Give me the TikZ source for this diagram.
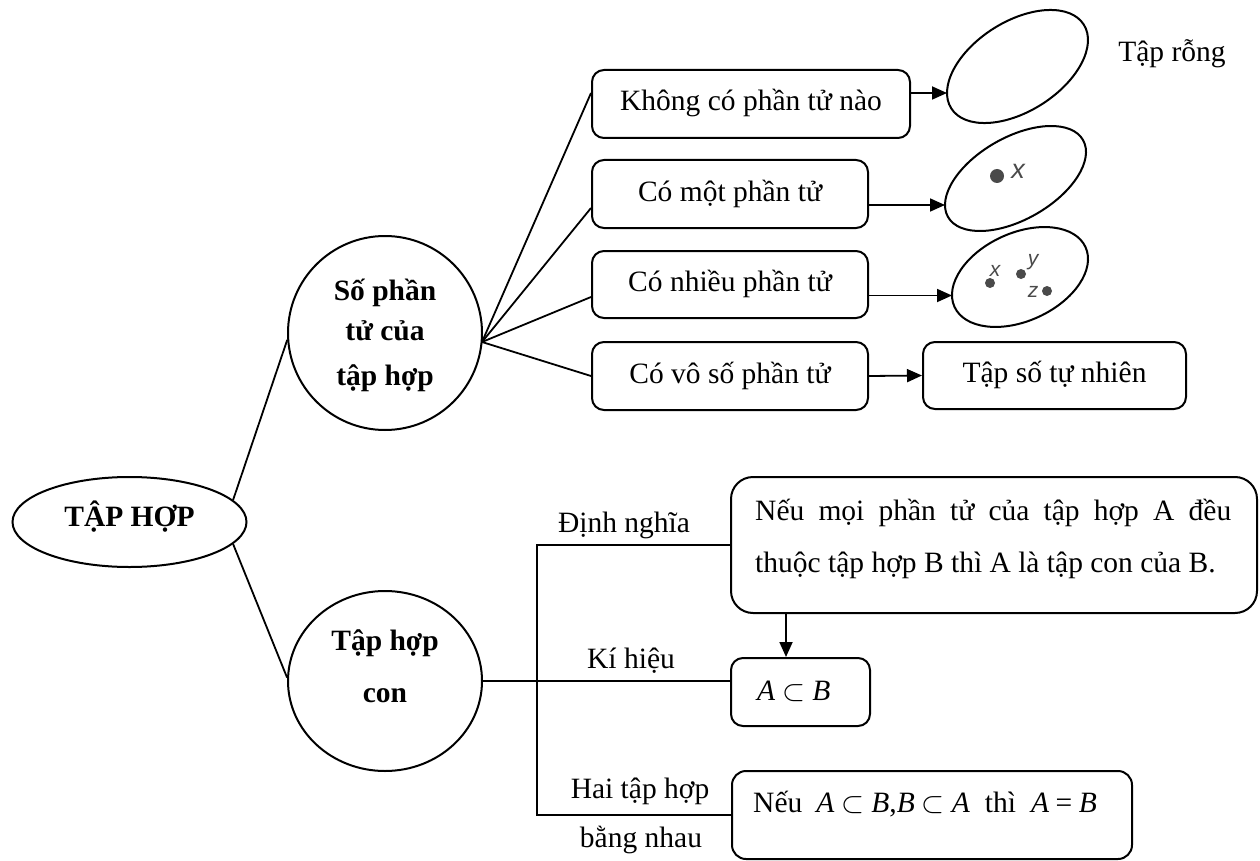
\documentclass[tikz,border=0pt]{standalone}
\usepackage{fix-cm}
\usepackage{fontspec}
\setmainfont{Liberation Serif}
\newfontfamily\lsans{Liberation Sans}
\usetikzlibrary{shapes.geometric,arrows.meta,calc}
\definecolor{dotgray}{HTML}{4A4A4A}
\hyphenpenalty=10000
\tolerance=9999
\newcommand{\subs}{\hspace{7pt}$\subset$\hspace{7pt}}
\begin{document}
\begin{tikzpicture}[x=1pt,y=-1pt,
  txt/.style={font=\fontsize{29.5}{35}\selectfont, inner sep=0pt},
  bld/.style={font=\fontsize{29.5}{35}\selectfont\bfseries, inner sep=0pt},
  rbox/.style={draw, line width=2pt, rounded corners=12pt, inner sep=0pt,
    text height=20pt, text depth=6pt, font=\fontsize{29.5}{35}\selectfont},
  oval/.style={draw, ellipse, line width=2pt, inner sep=0pt},
  conn/.style={line width=1.8pt},
  arr/.style={line width=1.8pt, -{Triangle[length=15pt,width=13pt]}},
  dotnode/.style={circle, fill=dotgray, inner sep=0pt},
  lab/.style={text=dotgray, inner sep=0pt}
]
\useasboundingbox (0,0) rectangle (1260,861);

% root
\node[oval, minimum width=234pt, minimum height=90pt] (tp) at (129.5,522) {};
\node[bld, anchor=base] (tpt) at (129.5,526) {TẬP HỢP};

% circles
\node[oval, minimum width=194pt, minimum height=194pt] (c1) at (385,333) {};
\node[bld, anchor=base] (c1a) at (385,300) {Số phần};
\node[bld, anchor=base] (c1b) at (385,340) {tử của};
\node[bld, anchor=base] (c1c) at (385,385) {tập hợp};

\node[oval, minimum width=194pt, minimum height=180pt] (c2) at (385,681) {};
\node[bld, anchor=base] (c2a) at (385,650) {Tập hợp};
\node[bld, anchor=base] (c2b) at (385,702) {con};

% boxes upper
\node[rbox, minimum width=318pt, minimum height=68pt] (b1) at (751,104) {Không có phần tử nào};
\node[rbox, minimum width=276pt, minimum height=68pt] (b2) at (730,194) {Có một phần tử};
\node[rbox, minimum width=276pt, minimum height=67pt] (b3) at (730,284.5) {Có nhiều phần tử};
\node[rbox, minimum width=276pt, minimum height=68pt] (b4) at (730,376) {Có vô số phần tử};
\node[rbox, minimum width=263pt, minimum height=67pt] (b5) at (1054.5,375.5) {Tập số tự nhiên};

% tilted ellipses
\node[oval, minimum width=156.8pt, minimum height=89.8pt, rotate=32.3] (e1) at (1017.5,66.5) {};
\node[oval, minimum width=155.4pt, minimum height=82.2pt, rotate=29.7] (e2) at (1015.5,178.5) {};
\node[oval, minimum width=144pt, minimum height=88pt, rotate=24.5] (e3) at (1020,277) {};
\coordinate (e1l) at (947,93);
\coordinate (e2l) at (945,205);
\coordinate (e3l) at (952,295.5);

\node[txt, anchor=base] (rong) at (1172,62) {Tập rỗng};

\node[dotnode, minimum size=14pt] (d2) at (997,176) {};
\node[lab, font=\lsans\itshape\fontsize{27}{27}\selectfont] (x2) at (1018,171) {x};
\node[dotnode, minimum size=10pt] (d3x) at (990,283) {};
\node[dotnode, minimum size=10pt] (d3y) at (1021,274) {};
\node[dotnode, minimum size=10pt] (d3z) at (1047,291) {};
\node[lab, font=\lsans\itshape\fontsize{21}{21}\selectfont] (x3) at (995,271) {x};
\node[lab, font=\lsans\itshape\fontsize{21}{21}\selectfont] (y3) at (1033,262) {y};
\node[lab, font=\lsans\itshape\fontsize{21}{21}\selectfont] (z3) at (1033,292) {z};

% lower boxes
\node[draw, line width=2pt, rounded corners=22pt, minimum width=526pt, minimum height=136pt, inner sep=0pt] (big) at (994,545) {};
\node[txt, text width=476pt, align=justify, font=\fontsize{29.5}{52}\selectfont, anchor=base west] (bigt) at (755,520)
  {Nếu mọi phần tử của tập hợp A đều\linebreak thuộc tập hợp B thì A là tập con của B.};
\node[draw, line width=2pt, rounded corners=12pt, minimum width=139pt, minimum height=68pt, inner sep=0pt] (ab) at (800.5,692) {};
\node[txt, anchor=base west] (abt) at (757,700) {\textit{A}\subs\textit{B}};
\node[draw, line width=2pt, rounded corners=14pt, minimum width=400pt, minimum height=88pt, inner sep=0pt] (bot) at (932,815) {};
\node[txt, anchor=base west] (bott) at (753,812)
  {Nếu\hspace{14pt}\textit{A}\subs\textit{B},\textit{B}\subs\textit{A}\hspace{15pt}thì\hspace{15pt}\textit{A}\hspace{6.5pt}=\hspace{6.5pt}\textit{B}};

% labels
\node[txt, anchor=base] (ldn) at (624,532) {Định nghĩa};
\node[txt, anchor=base] (lkh) at (631,668) {Kí hiệu};
\node[txt, anchor=base] (lhai) at (640,798) {Hai tập hợp};
\node[txt, anchor=base] (lbn) at (641,847) {bằng nhau};

% connectors
\draw[conn] (tp.12.6) -- (c1.184);
\draw[conn] (tp.-12.4) -- (c2.178);
\coordinate (c1o) at (482,342);
\draw[conn] (c1o) -- ([yshift=11pt]b1.west);
\draw[conn] (c1o) -- ([yshift=-14pt]b2.west);
\draw[conn] (c1o) -- ([yshift=-12.5pt]b3.west);
\draw[conn] (c1o) -- (b4.west);
\draw[arr] ([yshift=11pt]b1.east) -- (e1l);
\draw[arr] ([yshift=-11pt]b2.east) -- (e2l);
\draw[arr] ([yshift=-11pt]b3.east) -- (e3l);
\draw[arr] (b4.east) -- (b5.west);

\coordinate (vt) at (537,545);
\coordinate (vb) at (537,815);
\draw[conn] (big.west) -- (vt) -- (vb) -- (bot.west);
\draw[conn] (c2.east) -- (c2.east -| ab.west);
\draw[arr] ([xshift=56pt]big.south west) -- ([xshift=56pt]ab.north west);
\end{tikzpicture}
\end{document}
